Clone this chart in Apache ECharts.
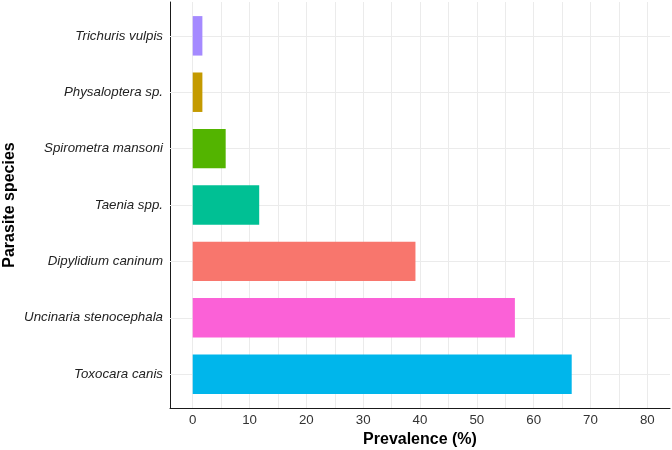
<!DOCTYPE html>
<html><head><meta charset="utf-8">
<script src="https://cdn.jsdelivr.net/npm/echarts@6/dist/echarts.min.js"></script>
<style>html,body{margin:0;padding:0;background:#fff}#c{width:672px;height:450px}</style>
</head><body><div id="c"></div>
<script>
// Data (bottom to top, as ECharts category axis order)
const categories = ['Toxocara canis', 'Uncinaria stenocephala', 'Dipylidium caninum', 'Taenia spp.', 'Spirometra mansoni', 'Physaloptera sp.', 'Trichuris vulpis'];
const prevalence = [66.7, 56.7, 39.2, 11.7, 5.8, 1.7, 1.7];
const xTickLabels = [0, 10, 20, 30, 40, 50, 60, 70, 80];
const xMinorTicks = [5, 15, 25, 35, 45, 55, 65, 75];
const barColors = ['#00B6EB', '#FB61D7', '#F8766D', '#00C094', '#53B400', '#C49A00', '#A58AFF'];

const FONT = '"Liberation Sans", Arial, Helvetica, sans-serif';
const gridLineStyle = { color: '#EBEBEB', width: 1, type: 'solid' };
const gridX = xTickLabels.concat(xMinorTicks);

const chart = echarts.init(document.getElementById('c'), null, { renderer: 'canvas' });
chart.setOption({
  animation: false,
  backgroundColor: '#fff',
  textStyle: { fontFamily: FONT },
  grid: [
    { left: 170, right: 2, top: 2, bottom: 42, outerBoundsMode: 'none', containLabel: false },
    { left: 170, right: 2, top: 7.64, bottom: 47.64, outerBoundsMode: 'none', containLabel: false }
  ],
  xAxis: [
    {
      gridIndex: 0, type: 'value', min: -4, max: 84, interval: 2,
      axisLine: { show: true, onZero: false, lineStyle: { color: '#1A1A1A', width: 1 } },
      axisTick: { show: false },
      splitLine: { show: false },
      axisLabel: {
        formatter: function (v) { return xTickLabels.indexOf(v) >= 0 ? String(v) : ''; },
        color: '#333', fontSize: 13.3, margin: 6, fontFamily: FONT
      },
      name: 'Prevalence (%)', nameLocation: 'middle', nameGap: 24,
      nameTextStyle: { color: '#000', fontSize: 16, fontWeight: 'bold', fontFamily: FONT }
    },
    { gridIndex: 1, type: 'value', min: -4, max: 84, show: false }
  ],
  yAxis: [
    {
      gridIndex: 0, type: 'value', min: 0, max: 1,
      axisLine: { show: true, onZero: false, lineStyle: { color: '#1A1A1A', width: 1 } },
      axisTick: { show: false }, axisLabel: { show: false }, splitLine: { show: false },
      name: 'Parasite species', nameLocation: 'middle', nameGap: 152,
      nameTextStyle: { color: '#000', fontSize: 16, fontWeight: 'bold', fontFamily: FONT }
    },
    {
      gridIndex: 1, type: 'category', data: categories,
      axisLine: { show: false }, axisTick: { show: false }, splitLine: { show: false },
      axisLabel: { fontStyle: 'italic', color: '#222', fontSize: 13.3, margin: 7, fontFamily: FONT }
    }
  ],
  series: [
    {
      type: 'line', xAxisIndex: 0, yAxisIndex: 0, data: [], silent: true,
      markLine: { silent: true, symbol: 'none', label: { show: false }, lineStyle: gridLineStyle, z: 1,
        data: gridX.map(function (v) { return { xAxis: v }; }) }
    },
    {
      type: 'line', xAxisIndex: 1, yAxisIndex: 1, data: [], silent: true,
      markLine: { silent: true, symbol: 'none', label: { show: false }, lineStyle: gridLineStyle, z: 1,
        data: categories.map(function (c) { return { yAxis: c }; }) }
    },
    {
      type: 'bar', xAxisIndex: 1, yAxisIndex: 1, barWidth: '70%', z: 10,
      data: prevalence.map(function (v, i) { return { value: v, itemStyle: { color: barColors[i] } }; })
    }
  ]
});
</script>
</body></html>
